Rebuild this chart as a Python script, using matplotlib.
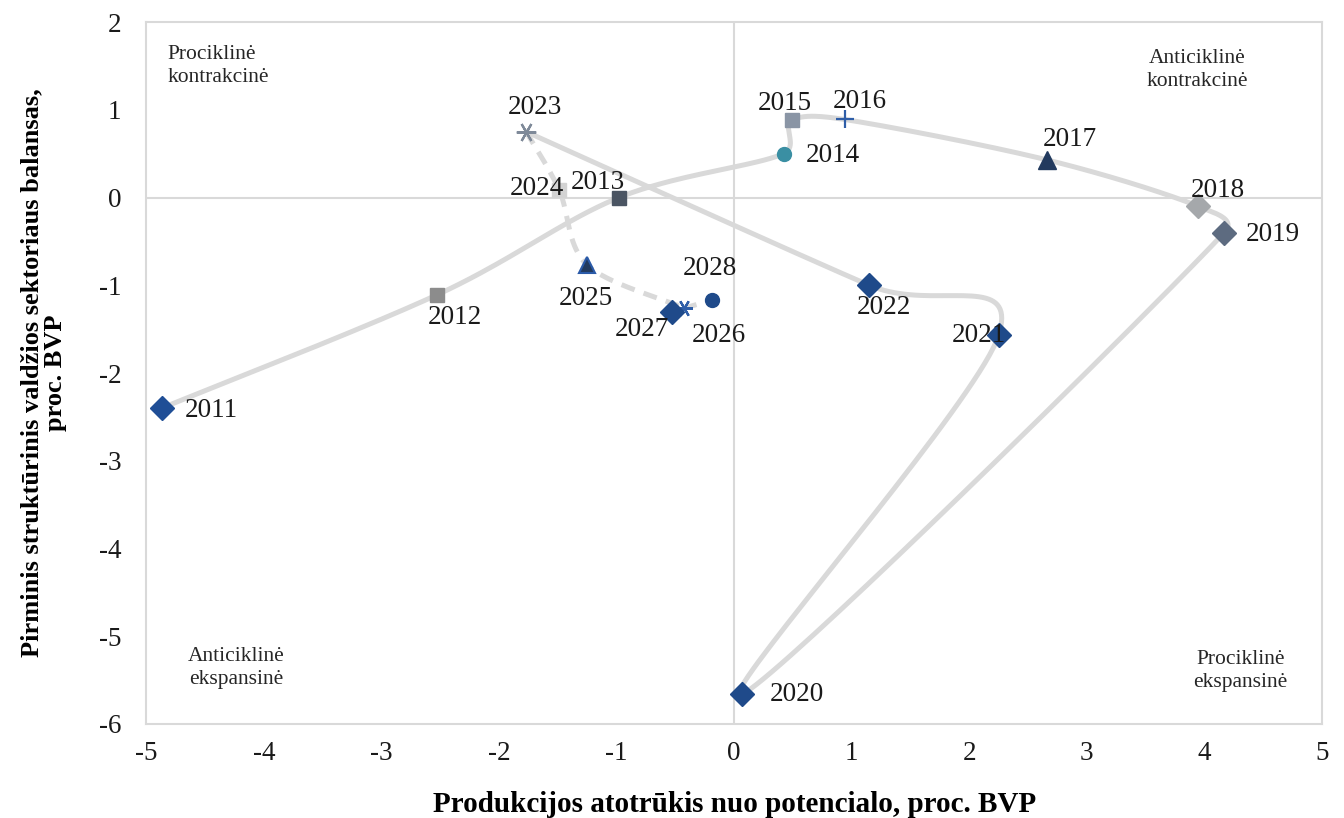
import numpy as np
import matplotlib
matplotlib.use('Agg')
import matplotlib.pyplot as plt

#### DATA ######################################
YEARS = ['2011', '2012', '2013', '2014', '2015', '2016', '2017', '2018', '2019',
         '2020', '2021', '2022', '2023', '2024', '2025', '2026', '2027', '2028']
GAP = [-4.87, -2.53, -0.98, 0.42, 0.49, 0.94, 2.66, 3.95, 4.17,
       0.07, 2.25, 1.15, -1.77, -1.49, -1.25, -0.43, -0.53, -0.19]
BALANCE = [-2.40, -1.11, 0.00, 0.50, 0.88, 0.89, 0.43, -0.10, -0.40,
           -5.66, -1.57, -1.00, 0.75, 0.09, -0.77, -1.26, -1.30, -1.17]
N_ACTUAL = 13   # 2011..2023 solid, 2023..2028 dashed (forecast)

QUADRANTS = ['Prociklinė\nkontrakcinė', 'Anticiklinė\nkontrakcinė',
             'Anticiklinė\nekspansinė', 'Prociklinė\nekspansinė']

#### STYLE #####################################
ASTER = (6, 2, 90)
MARKERS = ['D', 's', 's', 'o', 's', '+', '^', 'D', 'D',
           'D', 'D', 'D', ASTER, 's', '^', ASTER, 'D', 'o']
COLORS = ['#1f4e96', '#8c8c8c', '#4b5563', '#3a8fa3', '#8a95a5', '#2f5ea8',
          '#223a5e', '#a5a8ab', '#5d6b80', '#1f4a8a', '#1f4a8a', '#1f4a8a',
          '#7f8a99', '#d3d3d3', '#223a5e', '#2f5ea8', '#1f4a8a', '#1f4a8a']
SIZES = [12, 10, 10, 10, 10, 13, 13, 12, 12, 12, 12, 12, 14, 10, 12, 12, 12, 10]
# label offsets in pixels (dx, dy) and horizontal alignment
OFFSETS = [(23, -2, 'left'), (18, -23, 'center'), (-21, 15, 'center'),
           (22, -2, 'left'), (-7, 17, 'center'), (15, 18, 'center'),
           (23, 20, 'center'), (19, 16, 'center'), (21, -2, 'left'),
           (27, 0, 'left'), (-20, 0, 'center'), (15, -22, 'center'),
           (9, 24, 'center'), (-22, 1, 'center'), (-1, -33, 'center'),
           (35, -27, 'center'), (-30, -18, 'center'), (-2, 32, 'center')]
LINE_COLOR = '#d9d9d9'
GRID_COLOR = '#d9d9d9'
PX_X, PX_Y = 117.5, 87.75   # rough pixels per data unit, for smoothing

plt.rcParams['font.family'] = ['Liberation Serif', 'DejaVu Serif']
plt.rcParams['axes.unicode_minus'] = False


def smooth(xs, ys, n=40):
    # bezier through points, excel-like smoothing with clamped handles
    p = np.column_stack([np.array(xs) * PX_X, np.array(ys) * PX_Y])
    p = np.vstack([p[0], p, p[-1]])
    out = []
    for i in range(1, len(p) - 2):
        p0, p1, p2, p3 = p[i - 1], p[i], p[i + 1], p[i + 2]
        seglen = np.hypot(*(p2 - p1))
        h1 = (p2 - p0) / 6.0
        h2 = (p3 - p1) / 6.0
        for h in (h1, h2):
            L = np.hypot(*h)
            if L > 0.5 * seglen:
                h *= 0.5 * seglen / L
        c1 = p1 + h1
        c2 = p2 - h2
        t = np.linspace(0, 1, n)[:, None]
        seg = ((1 - t) ** 3) * p1 + 3 * ((1 - t) ** 2) * t * c1 \
            + 3 * (1 - t) * t ** 2 * c2 + t ** 3 * p2
        out.append(seg)
    out = np.vstack(out)
    return out[:, 0] / PX_X, out[:, 1] / PX_Y


#### PLOT ######################################
fig = plt.figure(figsize=(13.44, 8.18), dpi=100)
ax = fig.add_axes([0.109, 0.115, 0.8745, 0.858])

ax.axhline(0, color=GRID_COLOR, lw=1.5, zorder=0)
ax.axvline(0, color=GRID_COLOR, lw=1.5, zorder=0)

sx, sy = smooth(GAP[:N_ACTUAL], BALANCE[:N_ACTUAL])
ax.plot(sx, sy, color=LINE_COLOR, lw=3.6, solid_capstyle='round', zorder=1)
fx, fy = smooth(GAP[N_ACTUAL - 1:], BALANCE[N_ACTUAL - 1:])
ax.plot(fx, fy, color=LINE_COLOR, lw=3.6, ls=(0, (2.8, 1.9)), zorder=1)

for i, yr in enumerate(YEARS):
    m = MARKERS[i]
    kw = dict(marker=m, ms=SIZES[i], color=COLORS[i], ls='none', zorder=3)
    if m in ('+', ASTER):
        kw['mew'] = 1.6
    elif yr == '2025':
        kw['mec'] = '#2a5aa8'
        kw['mew'] = 1.5
    else:
        kw['mec'] = COLORS[i]
    ax.plot(GAP[i], BALANCE[i], **kw)
    dx, dy, ha = OFFSETS[i]
    ax.annotate(yr, (GAP[i], BALANCE[i]), xytext=(dx, dy),
                textcoords='offset pixels', ha=ha, va='center',
                fontsize=19.5, color='#1a1a1a', zorder=4)

qkw = dict(transform=ax.transAxes, fontsize=15.5, va='top', color='#262626',
           linespacing=1.3)
ax.text(0.018, 0.967, QUADRANTS[0], ha='left', multialignment='left', **qkw)
ax.text(0.894, 0.962, QUADRANTS[1], ha='center', multialignment='center', **qkw)
ax.text(0.035, 0.11, QUADRANTS[2], ha='left', multialignment='center', **qkw)
ax.text(0.931, 0.105, QUADRANTS[3], ha='center', multialignment='center', **qkw)

ax.set_xlim(-5, 5)
ax.set_ylim(-6, 2)
ax.set_xticks(range(-5, 6))
ax.set_yticks(range(-6, 3))
ax.tick_params(length=0, labelsize=19.5, pad=12, colors='#1a1a1a')
ax.tick_params(axis='y', pad=18)
for s in ax.spines.values():
    s.set_color(GRID_COLOR)
    s.set_linewidth(1.5)

ax.set_xlabel('Produkcijos atotrūkis nuo potencialo, proc. BVP',
              fontsize=21, fontweight='bold')
ax.xaxis.set_label_coords(0.5, -0.095)
ax.set_ylabel('Pirminis struktūrinis valdžios sektoriaus balansas,\nproc. BVP',
              fontsize=19, fontweight='bold', linespacing=1.0)
ax.yaxis.set_label_coords(-0.068, 0.5)

fig.savefig('out.png', dpi=100)
